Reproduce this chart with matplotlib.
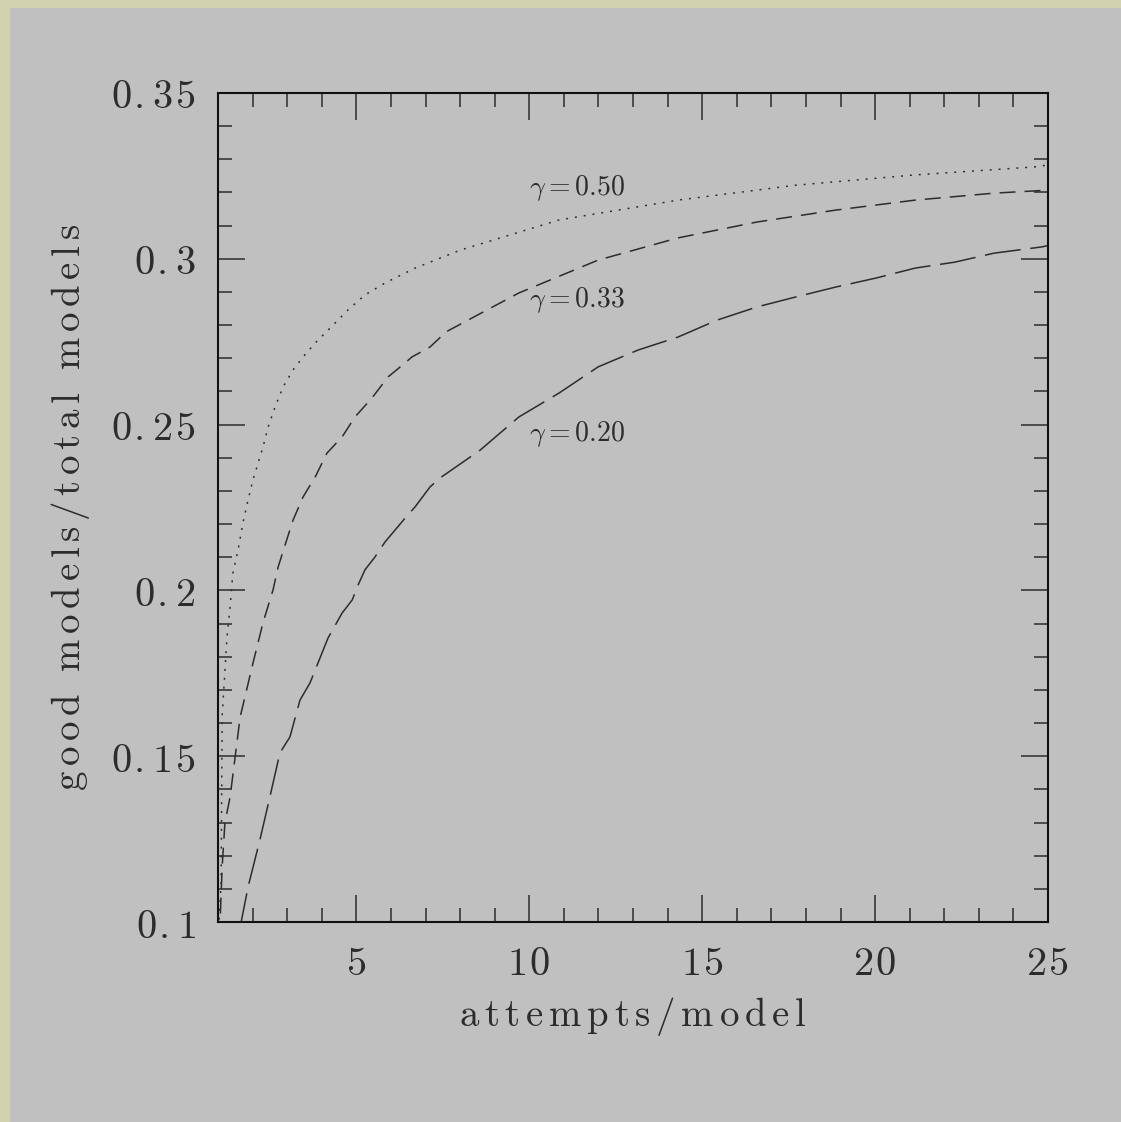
import matplotlib
matplotlib.use("Agg")
import matplotlib.pyplot as plt
from matplotlib.patches import Rectangle
from matplotlib.ticker import MultipleLocator, FixedLocator, FuncFormatter

plt.rcParams['mathtext.fontset'] = 'cm'
plt.rcParams['lines.scale_dashes'] = False

# valores: intentos por modelo vs fraccion de modelos buenos
x_050 = [1.0, 1.03, 1.09, 1.12, 1.26, 1.35, 1.43, 1.58, 1.72, 1.87, 2.01, 2.16, 2.30,
         2.45, 2.65, 2.88, 3.17, 3.46, 3.81, 4.24, 4.76, 5.25, 5.83, 6.41, 6.70, 8.00,
         10.86, 14.30, 17.71, 21.16, 24.60, 25.0]
y_050 = [0.09, 0.100, 0.112, 0.162, 0.186, 0.195, 0.2052, 0.2122, 0.2203, 0.2273,
         0.2333, 0.2384, 0.2432, 0.2493, 0.2553, 0.2613, 0.2665, 0.2704, 0.2746, 0.2791,
         0.2846, 0.2891, 0.2927, 0.2957, 0.2972, 0.3026, 0.3117, 0.3177, 0.3222, 0.3253,
         0.3277, 0.3283]

x_033 = [1.04, 1.06, 1.12, 1.20, 1.35, 1.64, 2.01, 2.30, 2.59, 2.74, 2.94, 3.17, 3.46,
         3.81, 4.15, 4.59, 4.96, 5.45, 5.92, 6.41, 6.61, 7.13, 7.60, 9.70, 11.99, 14.30,
         16.59, 18.87, 21.16, 23.44, 25.0]
y_033 = [0.095, 0.100, 0.1166, 0.1299, 0.1377, 0.1618, 0.178, 0.1902, 0.2001, 0.2071,
         0.2137, 0.2212, 0.2282, 0.2342, 0.2414, 0.2463, 0.2523, 0.258, 0.2644, 0.2686,
         0.2704, 0.2734, 0.278, 0.2897, 0.2996, 0.3063, 0.3111, 0.3147, 0.3177, 0.3198,
         0.3207]

x_020 = [1.62, 1.67, 1.87, 2.21, 2.50, 2.79, 3.08, 3.37, 3.66, 4.18, 4.59, 4.88, 5.05,
         5.25, 5.54, 5.83, 6.12, 6.41, 6.70, 7.13, 7.42, 8.58, 9.70, 10.86, 11.99, 13.15,
         14.30, 15.43, 16.59, 17.71, 18.87, 20.03, 21.16, 22.31, 23.44, 24.83, 25.0]
y_020 = [0.098, 0.100, 0.1106, 0.1247, 0.1377, 0.151, 0.1558, 0.1669, 0.1721, 0.1856,
         0.1932, 0.1971, 0.2016, 0.2062, 0.2101, 0.2146, 0.2182, 0.2218, 0.2252, 0.2312,
         0.2339, 0.2423, 0.2523, 0.2595, 0.2674, 0.2725, 0.2764, 0.2815, 0.2855, 0.2885,
         0.2915, 0.2942, 0.2972, 0.299, 0.3017, 0.3036, 0.304]

etiquetas = ['0.50', '0.33', '0.20']
etiq_x = [10.0, 10.0, 10.0]
etiq_y = [0.3215, 0.2876, 0.2472]

xticks_may = [5, 10, 15, 20, 25]

tinta = '#2c2c2c'


def cm(s, gap=r'\,'):
    partes = []
    for ch in s:
        if ch == ' ':
            partes.append(r'\ ')
        elif partes and partes[-1] == '.':
            # el punto va pegado al digito siguiente (si no, mathtext le mete espacio)
            partes[-1] = '.' + ch
        else:
            partes.append(ch)
    return r'$\mathrm{' + gap.join(partes) + '}$'


fig = plt.figure(figsize=(11.21, 11.22), dpi=100)
fig.patch.set_facecolor('#d3d2ae')
fig.patches.append(Rectangle((10 / 1121, 0), 1, 1 - 8 / 1122, transform=fig.transFigure,
                             facecolor='#c0c0c0', edgecolor='none', zorder=-10))

ax = fig.add_axes([218 / 1121, 1 - 922 / 1122, 830 / 1121, 829 / 1122])
ax.set_facecolor('none')
ax.set_zorder(5)

ax.plot(x_050, y_050, color=tinta, lw=1.1, dashes=(1.4, 5.0))
ax.plot(x_033, y_033, color=tinta, lw=1.1, dashes=(11.5, 6.5))
ax.plot(x_020, y_020, color=tinta, lw=1.1, dashes=(26, 7))

for t, xx, yy in zip(etiquetas, etiq_x, etiq_y):
    ax.text(xx, yy, r'$\gamma{=}\mathsf{' + t + '}$', fontsize=20, color=tinta,
            ha='left', va='center')

ax.set_xlim(1, 25)
ax.set_ylim(0.1, 0.35)
ax.xaxis.set_major_locator(FixedLocator(xticks_may))
ax.xaxis.set_minor_locator(MultipleLocator(1))
ax.yaxis.set_major_locator(MultipleLocator(0.05))
ax.yaxis.set_minor_locator(MultipleLocator(0.01))
ax.xaxis.set_major_formatter(FuncFormatter(lambda v, p: cm('%g' % v, r'\hspace{0.08}')))
ax.yaxis.set_major_formatter(FuncFormatter(lambda v, p: cm('%g' % round(v, 2), r'\hspace{0.08}')))

ax.tick_params(which='both', direction='in', top=True, right=True, color=tinta,
               width=1.1, labelcolor=tinta)
ax.tick_params(which='major', length=19.5, labelsize=29, pad=16)
ax.tick_params(which='minor', length=10)
for s in ax.spines.values():
    s.set_linewidth(1.5)
    s.set_color('#111111')

ax.set_xlabel(cm('attempts/model'), fontsize=28, color=tinta, labelpad=8)
ax.set_ylabel(cm('good models/total models'), fontsize=28, color=tinta, labelpad=14)

plt.savefig('out.png', dpi=100, facecolor=fig.get_facecolor())
